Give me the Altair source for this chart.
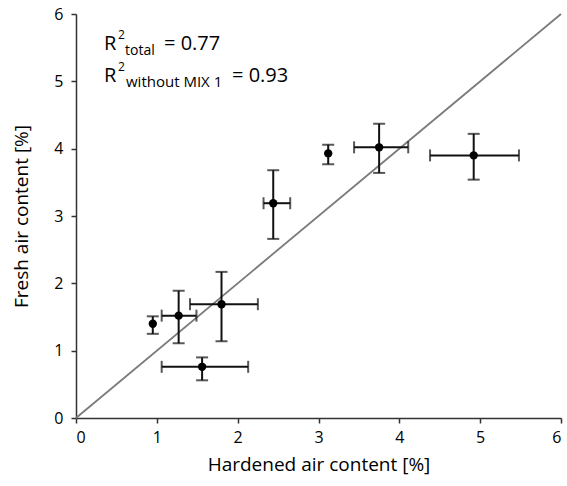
import altair as alt
import pandas as pd

# Data
hardened = [0.95, 1.27, 1.80, 1.56, 2.44, 3.12, 3.75, 4.92]
fresh = [1.40, 1.52, 1.69, 0.76, 3.19, 3.93, 4.02, 3.90]
fresh_lo = [1.25, 1.11, 1.14, 0.56, 2.66, 3.77, 3.64, 3.54]
fresh_hi = [1.51, 1.89, 2.17, 0.90, 3.68, 4.06, 4.37, 4.22]
hard_lo = [None, 1.06, 1.41, 1.06, 2.32, None, 3.44, 4.38]
hard_hi = [None, 1.49, 2.25, 2.13, 2.65, None, 4.11, 5.48]
line_x = [0, 6]
line_y = [0, 6]

df = pd.DataFrame({
    "x": hardened, "y": fresh,
    "ylo": fresh_lo, "yhi": fresh_hi,
    "xlo": hard_lo, "xhi": hard_hi,
})
dfx = df.dropna(subset=["xlo", "xhi"])
line_df = pd.DataFrame({"x": line_x, "y": line_y})

FONT = "Open Sans"
xs = alt.Scale(domain=[0, 6], nice=False)
ys = alt.Scale(domain=[0, 6], nice=False)

xaxis = alt.Axis(values=[0, 1, 2, 3, 4, 5, 6], title="Hardened air content [%]",
                 format="d", labelPadding=6, titlePadding=10)
yaxis = alt.Axis(values=[0, 1, 2, 3, 4, 5, 6], title="Fresh air content [%]",
                 format="d", labelPadding=8, titlePadding=22)

diag = alt.Chart(line_df).mark_line(color="#7a7a7a", strokeWidth=1.8).encode(
    x=alt.X("x:Q", scale=xs, axis=xaxis),
    y=alt.Y("y:Q", scale=ys, axis=yaxis),
)

base = alt.Chart(df)
yerr = base.mark_rule(color="#111", strokeWidth=2).encode(
    x=alt.X("x:Q", scale=xs), y=alt.Y("ylo:Q", scale=ys), y2="yhi:Q")
ycap_lo = base.mark_tick(color="#111", orient="horizontal", size=12, thickness=2).encode(
    x=alt.X("x:Q", scale=xs), y=alt.Y("ylo:Q", scale=ys))
ycap_hi = base.mark_tick(color="#111", orient="horizontal", size=12, thickness=2).encode(
    x=alt.X("x:Q", scale=xs), y=alt.Y("yhi:Q", scale=ys))

basex = alt.Chart(dfx)
xerr = basex.mark_rule(color="#111", strokeWidth=2).encode(
    x=alt.X("xlo:Q", scale=xs), x2="xhi:Q", y=alt.Y("y:Q", scale=ys))
xcap_lo = basex.mark_tick(color="#111", orient="vertical", size=12, thickness=2).encode(
    x=alt.X("xlo:Q", scale=xs), y=alt.Y("y:Q", scale=ys))
xcap_hi = basex.mark_tick(color="#111", orient="vertical", size=12, thickness=2).encode(
    x=alt.X("xhi:Q", scale=xs), y=alt.Y("y:Q", scale=ys))

pts = base.mark_circle(color="black", opacity=1, size=70).encode(
    x=alt.X("x:Q", scale=xs), y=alt.Y("y:Q", scale=ys))

def txt(s, px, py, size):
    return alt.Chart(pd.DataFrame({"t": [s]})).mark_text(
        font=FONT, fontSize=size, align="left", baseline="alphabetic", color="black"
    ).encode(text="t:N", x=alt.value(px), y=alt.value(py))

ann = [
    txt("R", 28, 36, 20), txt("2", 42, 25, 12), txt("total", 49, 41, 14), txt("= 0.77", 88, 36, 20),
    txt("R", 28, 68, 20), txt("2", 42, 57, 12), txt("without MIX 1", 50, 73, 15), txt("= 0.93", 156, 68, 20),
]

chart = alt.layer(diag, yerr, ycap_lo, ycap_hi, xerr, xcap_lo, xcap_hi, pts, *ann).properties(
    width=485, height=404,
    autosize=alt.AutoSizeParams(type="none"),
    padding={"left": 76, "top": 14, "right": 6, "bottom": 68},
).configure_view(stroke=None).configure_axis(
    grid=False, domainColor="#333", tickColor="#333", domainWidth=1.5, tickWidth=1.5,
    tickSize=5, labelFont=FONT, titleFont=FONT, labelFontSize=16, titleFontSize=19,
    titleFontWeight="normal", labelColor="black", titleColor="black",
)

chart.save("out.html", embed_options={"renderer": "svg", "actions": False})
